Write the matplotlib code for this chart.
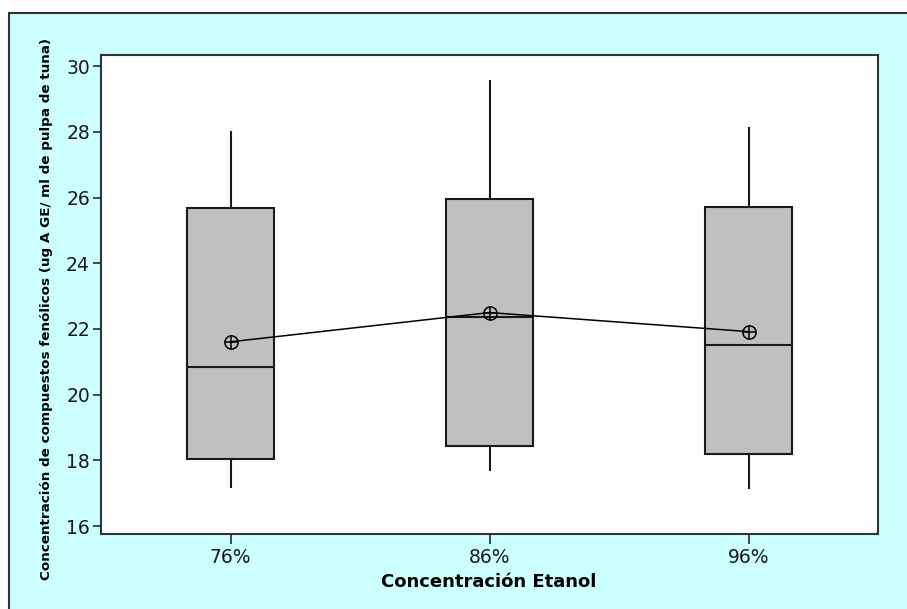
import matplotlib
matplotlib.use("Agg")
import matplotlib.pyplot as plt
from matplotlib.patches import Rectangle

categories = ["76%", "86%", "96%"]
whislo = [17.19, 17.70, 17.17]
q1 = [18.04, 18.44, 18.20]
med = [20.85, 22.37, 21.51]
q3 = [25.67, 25.96, 25.70]
whishi = [28.00, 29.56, 28.12]
means = [21.61, 22.50, 21.92]
yticks = [16, 18, 20, 22, 24, 26, 28, 30]

W, H = 907, 609
fig = plt.figure(figsize=(W / 100, H / 100), dpi=100)
fig.patch.set_facecolor("white")

# outer cyan frame (runs off the right and bottom edges)
frame = Rectangle((9 / W, -0.5), 1.5, 0.5 + (H - 13) / H, transform=fig.transFigure,
                  facecolor="#CCFFFF", edgecolor="#333333", linewidth=1.5, zorder=-10)
fig.patches.append(frame)

ax = fig.add_axes([101 / W, (H - 534) / H, (878 - 101) / W, (534 - 55) / H])
ax.set_zorder(1)
ax.set_facecolor("white")

stats = []
for i in range(len(categories)):
    stats.append(dict(whislo=whislo[i], q1=q1[i], med=med[i], q3=q3[i],
                      whishi=whishi[i], fliers=[], label=categories[i]))
positions = [1, 2, 3]
ax.bxp(stats, positions=positions, widths=0.336, showcaps=False, patch_artist=True,
       boxprops=dict(facecolor="#C0C0C0", edgecolor="#1a1a1a", linewidth=1.5),
       medianprops=dict(color="#1a1a1a", linewidth=1.5),
       whiskerprops=dict(color="#1a1a1a", linewidth=1.5))

ax.plot(positions, means, color="black", linewidth=1.1, zorder=4)
ax.plot(positions, means, linestyle="none", marker="o", markersize=9.5,
        markerfacecolor="none", markeredgecolor="black", markeredgewidth=1.1, zorder=5)
ax.plot(positions, means, linestyle="none", marker="+", markersize=9.5,
        markeredgecolor="black", markeredgewidth=1.1, zorder=5)

ax.set_xlim(0.5, 3.5)
ax.set_ylim(15.76, 30.34)
ax.set_yticks(yticks)
ax.set_yticklabels([str(t) for t in yticks])
ax.set_xticks(positions)
ax.set_xticklabels(categories)
ax.tick_params(axis="both", direction="out", labelsize=13.5, colors="#1a1a1a", width=1.1)
ax.tick_params(axis="x", length=7, pad=3)
ax.tick_params(axis="y", length=6, pad=2)
for s in ax.spines.values():
    s.set_linewidth(1.5)
    s.set_color("#333333")

fig.text(489 / W, 1 - 582 / H, "Concentración Etanol", ha="center", va="center",
         fontsize=13, fontweight="bold", color="black", zorder=2)
fig.text(47 / W, 1 - 309 / H,
         "Concentración de compuestos fenólicos (ug A GE/ ml de pulpa de tuna)",
         ha="center", va="center", rotation=90, fontsize=9.7, fontweight="bold",
         color="black", zorder=2)

fig.savefig("out.png", dpi=100, facecolor=fig.get_facecolor())
